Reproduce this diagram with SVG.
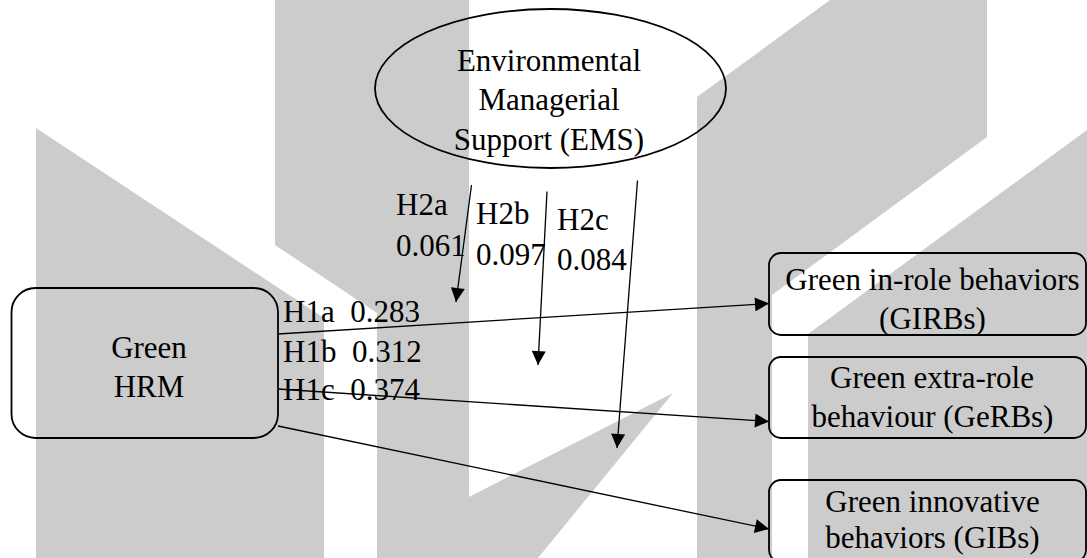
<svg xmlns="http://www.w3.org/2000/svg" width="1087" height="558" viewBox="0 0 1087 558">
  <style>
    .wm { fill: #cccccc; stroke: none; }
    .node { fill: none; stroke: #000; stroke-width: 1.8; }
    .lbl { font-family: "Liberation Serif", "Times New Roman", serif; font-size: 31px; fill: #000; }
    .mid { text-anchor: middle; }
    .edge { stroke: #000; stroke-width: 1.3; fill: none; marker-end: url(#ah); }
  </style>
  <defs>
    <marker id="ah" viewBox="0 0 10 10" refX="10" refY="5" markerWidth="16" markerHeight="14" markerUnits="userSpaceOnUse" orient="auto">
      <path d="M0,0 L10,5 L0,10 z" fill="#000"/>
    </marker>
  </defs>

  <!-- background emblem -->
  <g id="emblem">
    <polygon class="wm" points="36,128 324,318 324,558 36,558"/>
    <polygon class="wm" points="275,0 469,0 469,497 673,393 538,558 377,558 377,313 275,245"/>
    <polygon class="wm" points="697,97 830,0 987,0 987,137 772,295 772,558 697,558"/>
    <polygon class="wm" points="1087,130 808,334 808,558 1087,558"/>
  </g>

  <g id="ems">
    <ellipse class="node" cx="550.5" cy="88.5" rx="175.5" ry="79.5"/>
    <text class="lbl mid" x="549" y="71">Environmental</text>
    <text class="lbl mid" x="549" y="110">Managerial</text>
    <text class="lbl mid" x="549" y="150">Support (EMS)</text>
  </g>

  <g id="ghrm">
    <rect class="node" x="11.5" y="288" width="266.5" height="150" rx="24"/>
    <text class="lbl mid" x="149" y="358">Green</text>
    <text class="lbl mid" x="149" y="397">HRM</text>
  </g>

  <g id="girb">
    <rect class="node" x="769" y="253" width="317" height="82" rx="12"/>
    <text class="lbl mid" x="932.5" y="290">Green in-role behaviors</text>
    <text class="lbl mid" x="932.5" y="329">(GIRBs)</text>
  </g>

  <g id="gerb">
    <rect class="node" x="769" y="357" width="317" height="81" rx="12"/>
    <text class="lbl mid" x="932" y="388">Green extra-role</text>
    <text class="lbl mid" x="932.5" y="427">behaviour (GeRBs)</text>
  </g>

  <g id="gib">
    <rect class="node" x="769" y="480" width="317" height="82" rx="12"/>
    <text class="lbl mid" x="932.5" y="512">Green innovative</text>
    <text class="lbl mid" x="932.5" y="548">behaviors (GIBs)</text>
  </g>

  <g id="connectors">
    <line class="edge" x1="278" y1="334" x2="769" y2="303.5"/>
    <line class="edge" x1="278" y1="389" x2="769" y2="421.5"/>
    <line class="edge" x1="278" y1="426" x2="769" y2="529"/>
    <line class="edge" x1="471.5" y1="185" x2="456" y2="302"/>
    <line class="edge" x1="547" y1="191.5" x2="538" y2="365"/>
    <line class="edge" x1="637.5" y1="180.5" x2="617" y2="448"/>
  </g>

  <g id="path-labels" class="lbl">
    <text x="283" y="322">H1a&#160;&#160;0.283</text>
    <text x="283" y="362">H1b&#160;&#160;0.312</text>
    <text x="283" y="400">H1c&#160;&#160;0.374</text>
    <text x="396" y="215">H2a</text>
    <text x="396" y="256">0.061</text>
    <text x="476" y="224">H2b</text>
    <text x="476" y="265">0.097</text>
    <text x="557" y="230">H2c</text>
    <text x="557" y="270">0.084</text>
  </g>
</svg>
